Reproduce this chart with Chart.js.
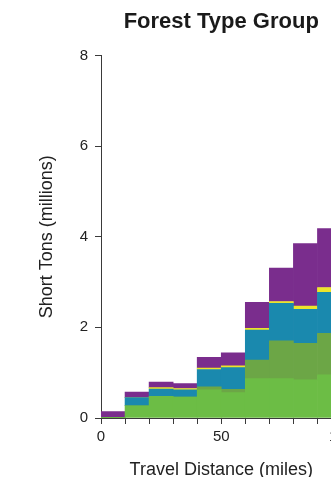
<!DOCTYPE html>
<html>
<head>
<meta charset="utf-8">
<script src="https://cdn.jsdelivr.net/npm/chart.js@4.4.1/dist/chart.umd.min.js"></script>
<style>
    html, body { margin: 0; padding: 0; background: #fff; }
    #wrap { width: 331px; height: 477px; overflow: hidden; position: relative; }
    #chart { display: block; }
</style>
</head>
<body>
<div id="wrap">
    <canvas id="chart" width="360" height="481"></canvas>
</div>
<script>
// bin centres, 10-mile travel distance classes (miles)
const binCenters = [5, 15, 25, 35, 45, 55, 65, 75, 85, 95];

// million short tons per forest type group, stacked bottom to top
const greenValues  = [0.01, 0.27, 0.48, 0.46, 0.62, 0.56, 0.87, 0.87, 0.84, 0.95];
const oliveValues  = [0.00, 0.00, 0.00, 0.00, 0.07, 0.07, 0.41, 0.83, 0.81, 0.92];
const tealValues   = [0.00, 0.18, 0.16, 0.16, 0.38, 0.48, 0.66, 0.83, 0.75, 0.90];
const yellowValues = [0.00, 0.00, 0.03, 0.03, 0.03, 0.04, 0.04, 0.04, 0.07, 0.11];
const purpleValues = [0.13, 0.12, 0.12, 0.11, 0.24, 0.29, 0.57, 0.74, 1.38, 1.30];

const yTicks = [0, 2, 4, 6, 8];
const xLabelled = [0, 50, 100];

const toPoints = (vals) => vals.map((v, i) => ({ x: binCenters[i], y: v }));

Chart.defaults.font.family = '"Liberation Sans", Arial, sans-serif';
Chart.defaults.color = '#222';

const ctx = document.getElementById('chart').getContext('2d');
const barStyle = { borderWidth: 0, barPercentage: 1, categoryPercentage: 1 };

new Chart(ctx, {
    type: 'bar',
    data: {
        datasets: [
            { label: 'Group 1', data: toPoints(greenValues), backgroundColor: '#6cbd45', ...barStyle },
            { label: 'Group 2', data: toPoints(oliveValues), backgroundColor: '#6ca646', ...barStyle },
            { label: 'Group 3', data: toPoints(tealValues), backgroundColor: '#1a89ae', ...barStyle },
            { label: 'Group 4', data: toPoints(yellowValues), backgroundColor: '#ece42b', ...barStyle },
            { label: 'Group 5', data: toPoints(purpleValues), backgroundColor: '#7a2d8d', ...barStyle }
        ]
    },
    options: {
        responsive: false,
        animation: false,
        layout: { padding: { left: 0, right: 18.5, top: 0, bottom: 0 } },
        plugins: {
            legend: { display: false },
            tooltip: { enabled: false },
            title: {
                display: true,
                text: 'Forest Type Group',
                fullSize: false,
                color: '#1a1a1a',
                font: { size: 22, weight: 'bold' },
                padding: { top: 9, bottom: 20 }
            }
        },
        scales: {
            x: {
                type: 'linear',
                stacked: true,
                min: 0,
                max: 100,
                offset: false,
                grid: {
                    offset: false,
                    drawOnChartArea: false,
                    drawTicks: true,
                    tickLength: 6,
                    color: '#3a3a3a'
                },
                border: { display: true, color: '#3a3a3a', width: 1 },
                ticks: {
                    stepSize: 10,
                    autoSkip: false,
                    maxRotation: 0,
                    padding: 4,
                    font: { size: 15 },
                    color: '#222',
                    callback: (v) => xLabelled.includes(v) ? String(v) : ''
                },
                title: {
                    display: true,
                    text: 'Travel Distance (miles)',
                    font: { size: 18 },
                    color: '#222',
                    padding: { top: 0, bottom: 0 }
                },
                afterFit: (scale) => { scale.height = 63; }
            },
            y: {
                stacked: true,
                min: 0,
                max: 8,
                grid: {
                    drawOnChartArea: false,
                    drawTicks: true,
                    tickLength: 6,
                    color: '#3a3a3a'
                },
                border: { display: true, color: '#3a3a3a', width: 1 },
                afterBuildTicks: (scale) => {
                    scale.ticks = yTicks.map(v => ({ value: v }));
                },
                ticks: {
                    padding: 7,
                    font: { size: 15 },
                    color: '#222'
                },
                title: {
                    display: true,
                    text: 'Short Tons (millions)',
                    font: { size: 18 },
                    color: '#222',
                    padding: { top: 36, bottom: 0 }
                },
                afterFit: (scale) => { scale.width = 101; }
            }
        }
    }
});
</script>
</body>
</html>
